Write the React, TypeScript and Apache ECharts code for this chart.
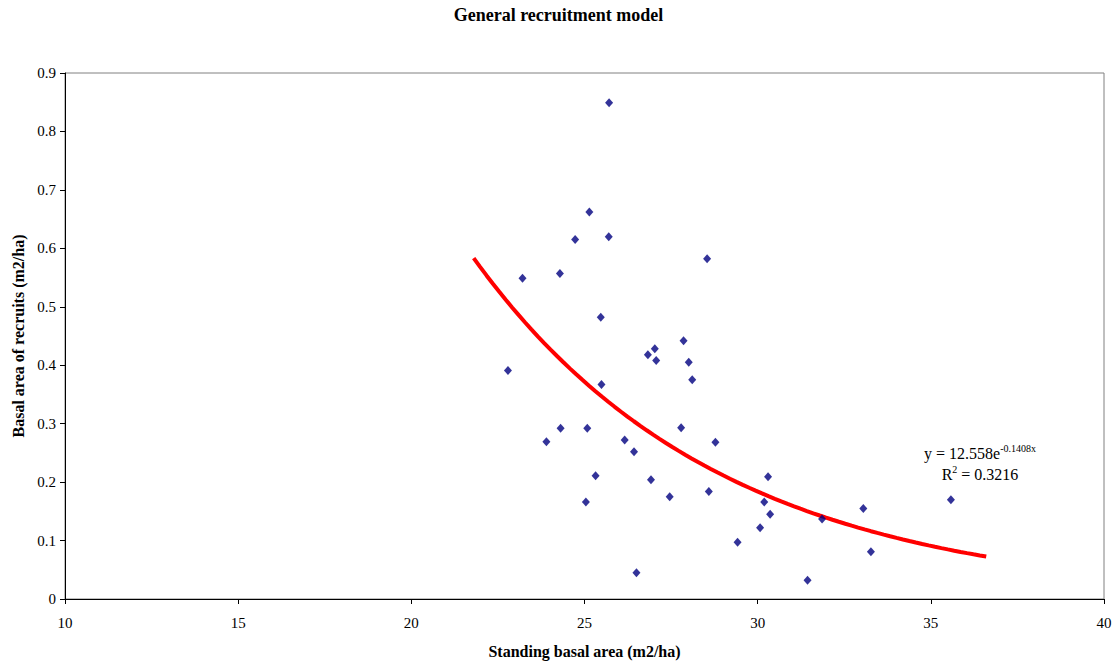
import React, { useEffect, useRef } from "react";
import * as echarts from "echarts";

const standingBA = [
  25.71, 25.14, 24.73, 25.7, 28.54, 23.21, 24.29, 25.47, 27.86, 27.03,
  26.83, 27.07, 28.01, 22.79, 28.11, 25.49, 24.31, 23.9, 25.08, 26.16,
  26.43, 27.79, 28.78, 25.32, 25.04, 26.92, 27.46, 28.59, 26.5, 30.3,
  30.19, 30.36, 30.07, 29.42, 31.86, 33.05, 33.27, 31.44, 35.58,
];
const recruitsBA = [
  0.849, 0.662, 0.615, 0.62, 0.582, 0.549, 0.557, 0.482, 0.442, 0.428,
  0.418, 0.408, 0.405, 0.391, 0.375, 0.367, 0.292, 0.269, 0.292, 0.272,
  0.252, 0.293, 0.268, 0.211, 0.166, 0.204, 0.175, 0.184, 0.045, 0.209,
  0.166, 0.145, 0.122, 0.097, 0.137, 0.155, 0.081, 0.032, 0.17,
];
// Trendline as stated in the chart: y = 12.558 e^(-0.1408 x)
const trendA = 12.558;
const trendB = -0.1408;
const trendStart = 21.8;
const trendEnd = 36.6;
const trendSteps = 80;

const serif = "'Liberation Serif', 'Times New Roman', serif";

export default function App() {
  const ref = useRef<HTMLDivElement>(null);
  useEffect(() => {
    document.body.style.margin = "0";
    const chart = echarts.init(ref.current!, null, { renderer: "svg" });
    const scatter = standingBA.map((x, i) => [x, recruitsBA[i]]);
    const trend: number[][] = [];
    for (let i = 0; i <= trendSteps; i++) {
      const x = trendStart + ((trendEnd - trendStart) * i) / trendSteps;
      trend.push([x, trendA * Math.exp(trendB * x)]);
    }
    chart.setOption({
      animation: false,
      backgroundColor: "#ffffff",
      textStyle: { fontFamily: serif },
      title: {
        text: "General recruitment model",
        left: "center",
        top: 1,
        textStyle: { fontFamily: serif, fontWeight: "bold", fontSize: 18, color: "#000" },
      },
      grid: {
        left: 65,
        right: 13,
        top: 73,
        bottom: 62,
        show: true,
        borderColor: "#808080",
        borderWidth: 1,
      },
      xAxis: {
        type: "value",
        min: 10,
        max: 40,
        interval: 5,
        name: "Standing basal area (m2/ha)",
        nameLocation: "middle",
        nameGap: 44,
        nameTextStyle: { fontFamily: serif, fontWeight: "bold", fontSize: 16, color: "#000" },
        axisLine: { show: true, onZero: false, lineStyle: { color: "#000", width: 1 } },
        axisTick: { show: true, length: 5, lineStyle: { color: "#000" } },
        axisLabel: { fontFamily: serif, fontSize: 15, color: "#000", margin: 16 },
        splitLine: { show: false },
      },
      yAxis: {
        type: "value",
        min: 0,
        max: 0.9,
        interval: 0.1,
        name: "Basal area of recruits (m2/ha)",
        nameLocation: "middle",
        nameGap: 39,
        nameTextStyle: { fontFamily: serif, fontWeight: "bold", fontSize: 16, color: "#000" },
        axisLine: { show: true, onZero: false, lineStyle: { color: "#000", width: 1 } },
        axisTick: { show: true, length: 5, lineStyle: { color: "#000" } },
        axisLabel: { fontFamily: serif, fontSize: 15, color: "#000", margin: 9 },
        splitLine: { show: false },
      },
      series: [
        {
          type: "scatter",
          data: scatter,
          symbol: "diamond",
          symbolSize: [8, 9],
          itemStyle: { color: "#000080" },
          z: 3,
        },
        {
          type: "line",
          data: trend,
          showSymbol: false,
          smooth: false,
          lineStyle: { color: "#ff0000", width: 4 },
          z: 2,
        },
      ],
      graphic: [
        {
          type: "text",
          x: 980,
          y: 453,
          style: {
            text: "{a|y = 12.558e}{s|-0.1408x}",
            align: "center",
            verticalAlign: "middle",
            rich: {
              a: { fontFamily: serif, fontSize: 16, fill: "#000" },
              s: { fontFamily: serif, fontSize: 10, fill: "#000", padding: [0, 0, 9, 0] },
            },
          },
        },
        {
          type: "text",
          x: 980,
          y: 474,
          style: {
            text: "{a|R}{s|2}{a| = 0.3216}",
            align: "center",
            verticalAlign: "middle",
            rich: {
              a: { fontFamily: serif, fontSize: 16, fill: "#000" },
              s: { fontFamily: serif, fontSize: 10, fill: "#000", padding: [0, 0, 9, 0] },
            },
          },
        },
      ],
    });
    return () => chart.dispose();
  }, []);
  return <div ref={ref} style={{ width: 1117, height: 664 }} />;
}
